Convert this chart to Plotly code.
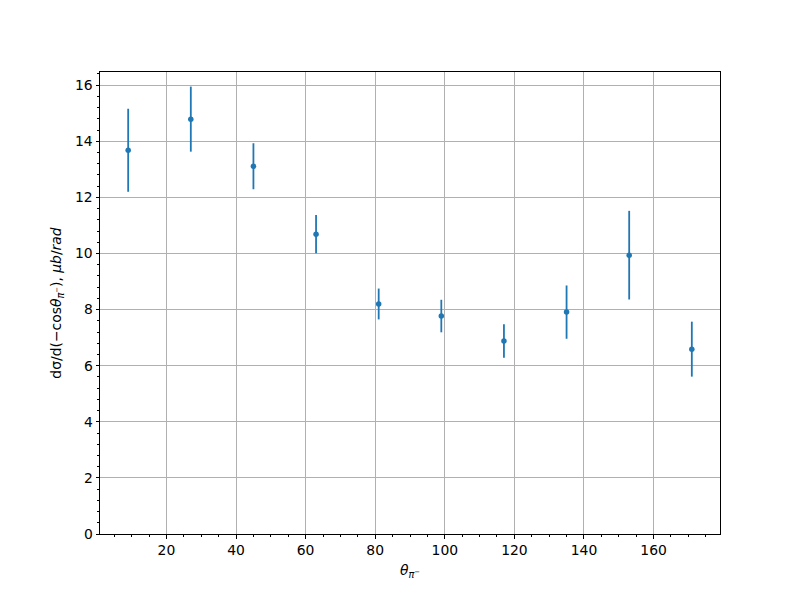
import plotly.graph_objects as go

theta = [9, 27, 45, 63, 81, 99, 117, 135, 153, 171]
xsec = [13.68, 14.79, 13.11, 10.69, 8.20, 7.77, 6.88, 7.91, 9.94, 6.59]
err = [1.48, 1.16, 0.82, 0.68, 0.55, 0.58, 0.60, 0.95, 1.58, 0.98]

color = "#1f77b4"
fig = go.Figure()
fig.add_trace(go.Scatter(
    x=theta, y=xsec, mode="markers",
    marker=dict(color=color, size=5.5),
    error_y=dict(type="data", array=err, visible=True, color=color, thickness=1.8, width=0),
    showlegend=False,
))

font = dict(family="DejaVu Sans", size=13.9, color="black")
axis_common = dict(
    showline=True, linecolor="black", linewidth=1, mirror=True,
    ticks="outside", ticklen=3.5, tickwidth=1, tickcolor="black",
    showgrid=True, gridcolor="#b0b0b0", gridwidth=1, zeroline=False,
    tickfont=font,
)
fig.update_layout(
    width=792, height=592,
    margin=dict(l=92, r=80, t=64, b=66),
    paper_bgcolor="white", plot_bgcolor="white",
    font=font,
    xaxis=dict(range=[0.9, 179.1], tickmode="linear", tick0=0, dtick=20,
               minor=dict(dtick=5, tick0=0, ticks="outside", ticklen=2, tickcolor="black", showgrid=False),
               title=dict(text="<i>θ</i><sub><i>π</i><sup>−</sup></sub>", font=font, standoff=8),
               **axis_common),
    yaxis=dict(range=[0, 16.47], tickmode="linear", tick0=0, dtick=2,
               minor=dict(dtick=0.4, tick0=0, ticks="outside", ticklen=2, tickcolor="black", showgrid=False),
               title=dict(text="dσ/d(−cos<i>θ</i><sub><i>π</i><sup>−</sup></sub>), <i>μb</i>/<i>rad</i>", font=font, standoff=10),
               **axis_common),
)
fig.write_html("out.html")
